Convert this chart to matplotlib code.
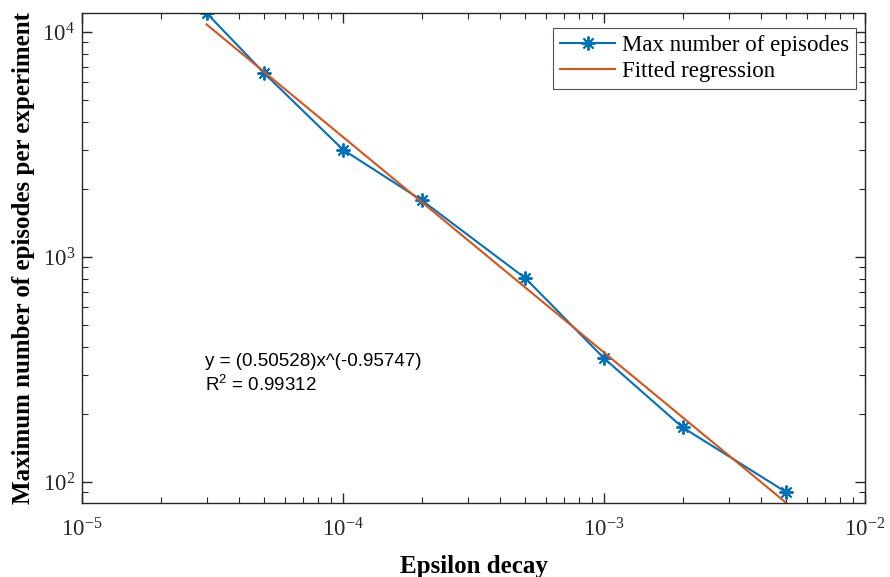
import numpy as np
import matplotlib
matplotlib.use("Agg")
import matplotlib.pyplot as plt
from matplotlib.ticker import LogLocator, LogFormatterSciNotation, NullFormatter

# data
eps_decay = [3e-5, 5e-5, 1e-4, 2e-4, 5e-4, 1e-3, 2e-3, 5e-3]
max_episodes = [12150, 6550, 3000, 1790, 805, 355, 175, 90]

# regression shown on the chart: y = a * x^b
fit_a = 0.50528
fit_b = -0.95747
fit_r2 = 0.99312

plt.rcParams["font.family"] = ["Liberation Serif", "DejaVu Serif"]
plt.rcParams["mathtext.fontset"] = "stix"

fig = plt.figure(figsize=(8.9, 5.77), dpi=100)
ax = fig.add_axes([0.0921, 0.1282, 0.8798, 0.8493])

x = np.array(eps_decay)
fit_y = fit_a * x ** fit_b

ax.plot(x, max_episodes, color="#0072BD", lw=1.5, marker=(8, 2, 0), ms=10,
        mew=1.4, label="Max number of episodes")
ax.plot(x, fit_y, color="#D95319", lw=1.5, label="Fitted regression")

ax.set_xscale("log")
ax.set_yscale("log")
ax.set_xlim(1e-5, 1e-2)
ax.set_ylim(fit_y.min(), max(max_episodes))

axis_col = "#262626"
for sp in ax.spines.values():
    sp.set_color(axis_col)
    sp.set_linewidth(1.0)

ax.xaxis.set_major_locator(LogLocator(base=10, numticks=10))
ax.xaxis.set_minor_locator(LogLocator(base=10, subs=np.arange(2, 10), numticks=20))
ax.yaxis.set_major_locator(LogLocator(base=10, numticks=10))
ax.yaxis.set_minor_locator(LogLocator(base=10, subs=np.arange(2, 10), numticks=20))
ax.xaxis.set_major_formatter(LogFormatterSciNotation())
ax.yaxis.set_major_formatter(LogFormatterSciNotation())
ax.xaxis.set_minor_formatter(NullFormatter())
ax.yaxis.set_minor_formatter(NullFormatter())

ax.tick_params(which="both", direction="in", top=True, right=True,
               colors=axis_col, labelsize=16.5, labelcolor=axis_col)
ax.tick_params(which="major", length=7, width=1.0)
ax.tick_params(axis="x", which="major", pad=11)
ax.tick_params(axis="y", which="major", pad=5)
ax.tick_params(which="minor", length=4, width=0.8)

ax.set_xlabel("Epsilon decay", fontsize=18, fontweight="bold", labelpad=10)
ax.set_ylabel("Maximum number of episodes per experiment", fontsize=18,
              fontweight="bold", labelpad=5)

ax.text(0.157, 0.288, "y = (%.5f)x^(%.5f)" % (fit_a, fit_b), transform=ax.transAxes,
        fontsize=13.5, family="Liberation Sans", va="center")
ax.text(0.157, 0.24, r"$\mathregular{R^2}$ = %.5f" % fit_r2, transform=ax.transAxes,
        fontsize=13.5, family="Liberation Sans", va="center")

leg = ax.legend(loc="upper right", bbox_to_anchor=(0.9885, 0.969), fontsize=16.5,
                frameon=True, fancybox=False, edgecolor=axis_col,
                handlelength=2.4, borderpad=0.3, labelspacing=0.2,
                handletextpad=0.3, borderaxespad=0)
leg.get_frame().set_linewidth(0.8)

fig.savefig("out.png", dpi=100, facecolor="white")
